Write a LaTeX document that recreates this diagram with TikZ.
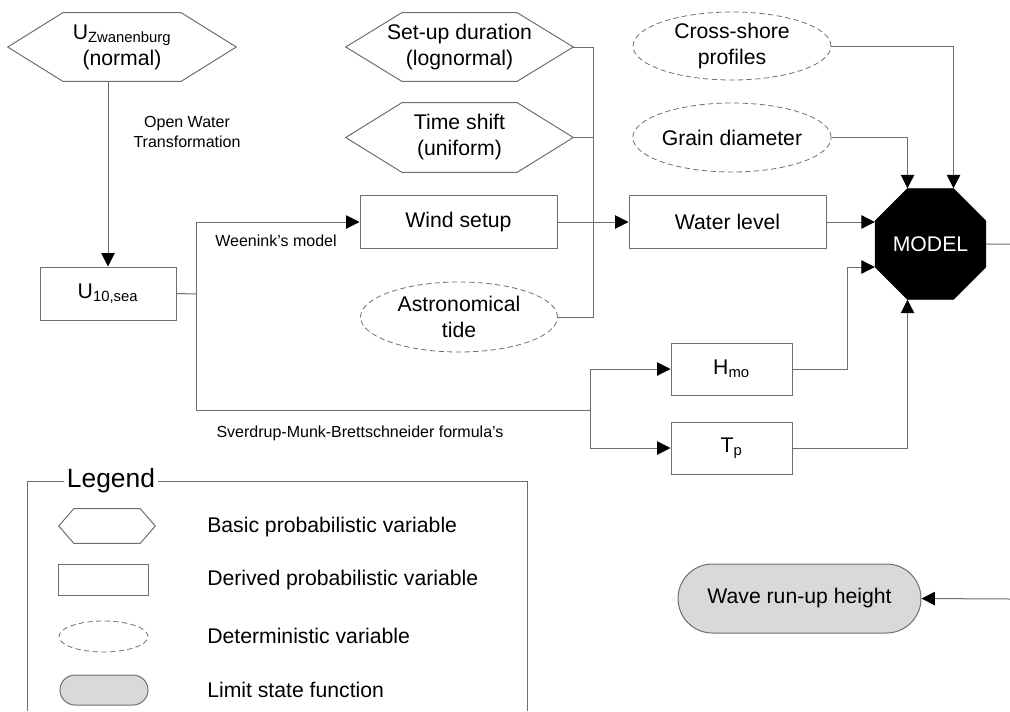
\documentclass[tikz,border=0pt]{standalone}
\usepackage{fontspec}
\setmainfont{Liberation Sans}
\usetikzlibrary{arrows.meta,shapes.geometric,shapes.misc,calc}
\definecolor{lgray}{RGB}{110,110,110}
\definecolor{fillgray}{RGB}{217,217,217}
\newcommand\pxu{0.75pt}
\newcommand\hexpath[2]{\draw[shapeline] (#1.west) -- ($(#1.north west)+(#2,0)$) -- ($(#1.north east)+(-#2,0)$) -- (#1.east) -- ($(#1.south east)+(-#2,0)$) -- ($(#1.south west)+(#2,0)$) -- cycle;}
\tikzset{
  shapeline/.style={draw=lgray, line width=0.75pt},
  mainfont/.style={font=\fontsize{15.9}{19.5}\selectfont},
  smallfont/.style={font=\fontsize{12}{14.5}\selectfont},
  hexbox/.style={mainfont, align=center, inner sep=0pt},
  derbox/.style={shapeline, rectangle, mainfont, align=center, inner sep=0pt},
  detell/.style={ellipse, draw=lgray, line width=0.6pt, dash pattern=on 4pt off 2.5pt, mainfont, align=center, inner sep=0pt},
  limitbox/.style={rounded rectangle, draw=lgray, line width=0.75pt, fill=fillgray, mainfont, inner sep=0pt},
  conn/.style={draw=lgray, line width=0.75pt},
  arr/.style={conn, -{Triangle[length=10pt,width=10pt,color=black]}},
  lbl/.style={smallfont, align=center, inner sep=0pt},
  legtext/.style={mainfont, anchor=west, inner sep=0pt}
}
\begin{document}
\begin{tikzpicture}[x=0.75pt, y=-0.75pt]
\useasboundingbox (0,0) rectangle (1010,711);

% top-left chain
\node[hexbox, minimum width=228*\pxu, minimum height=68*\pxu] (uz) at (122,47) {U\textsubscript{Zwanenburg}\\(normal)};
\hexpath{uz}{55}
\node[derbox, minimum width=136*\pxu, minimum height=53*\pxu] (u10) at (108,293.5) {U\textsubscript{10,sea}};
\draw[arr] (uz.south -| u10.north) -- (u10.north);
\node[lbl] (owt) at (187,132) {Open Water\\Transformation};

% middle column
\node[hexbox, minimum width=227*\pxu, minimum height=68*\pxu] (setup) at (459.5,47) {Set-up duration\\(lognormal)};
\hexpath{setup}{56}
\node[hexbox, minimum width=227*\pxu, minimum height=69*\pxu] (tshift) at (459.5,137.5) {Time shift\\(uniform)};
\hexpath{tshift}{56}
\node[derbox, minimum width=197*\pxu, minimum height=53*\pxu] (wind) at (458.5,222) {Wind setup};
\node[detell, minimum width=197*\pxu, minimum height=70*\pxu] (tide) at (459,317) {Astronomical\\tide};

% right column
\node[derbox, minimum width=197*\pxu, minimum height=53*\pxu] (water) at (727.5,222) {Water level};
\node[detell, minimum width=198*\pxu, minimum height=68*\pxu] (cross) at (732,46) {Cross-shore\\profiles};
\node[detell, minimum width=198*\pxu, minimum height=69*\pxu] (grain) at (732,137.5) {Grain diameter};
\node[regular polygon, regular polygon sides=8, fill=black, draw=black, minimum size=120*\pxu, inner sep=0pt, mainfont, text=white] (model) at (930.5,244) {MODEL};
\node[derbox, minimum width=121*\pxu, minimum height=52*\pxu] (hmo) at (731.5,369) {H\textsubscript{mo}};
\node[derbox, minimum width=121*\pxu, minimum height=52*\pxu] (tp) at (731.5,448) {T\textsubscript{p}};
\node[limitbox, minimum width=243*\pxu, minimum height=69*\pxu] (wave) at (799.5,598.5) {Wave run-up height};

% connectors
\coordinate (j1) at (196,294);
\coordinate (j2) at (590,410);
\draw[conn] (u10.east) -- (j1);
\draw[arr] (j1) |- (wind.west);
\node[lbl] (wlab) at (276,241) {Weenink's model};
\draw[conn] (j1) |- (j2);
\draw[arr] (j2) |- (hmo.west);
\draw[arr] (j2) |- (tp.west);
\node[lbl] (smb) at (360,433) {Sverdrup-Munk-Brettschneider formula's};

\coordinate (bt) at (593,47);
\coordinate (bb) at (593,317);
\draw[conn] (setup.east) -- (bt) -- (bb) -- (tide.east);
\draw[conn] (tshift.east) -- (tshift.east -| bt);
\draw[arr] (wind.east) -- (water.west);
\draw[arr] (water.east) -- (water.east -| model.west);
\draw[arr] (cross.east) -| ($(model.north)+(23,0)$);
\draw[arr] (grain.east) -| ($(model.north)+(-23,0)$);
\coordinate (hk) at (847,267);
\draw[arr] (hmo.east) -| (hk) -- (hk -| model.west);
\draw[arr] (tp.east) -| ($(model.south)+(-23,0)$);
\coordinate (e1) at (1010,244);
\draw[conn] (model.east) -- (e1);
\coordinate (e2) at (1010,599);
\draw[arr] (e2) -- (wave.east);

% legend
\node[font=\fontsize{19.8}{22}\selectfont, inner sep=2pt] (leg) at (111,481) {Legend};
\coordinate (lfl) at (27,711);
\coordinate (lfr) at (527,711);
\draw[conn] (lfl) |- (leg.west);
\draw[conn] (leg.east) -| (lfr);
\node[minimum width=96*\pxu, minimum height=34*\pxu, inner sep=0pt] (lh) at (107,526) {};
\hexpath{lh}{15}
\node[derbox, minimum width=90*\pxu, minimum height=31*\pxu] (lr) at (103,580) {};
\node[detell, minimum width=89*\pxu, minimum height=31*\pxu] (le) at (103.5,636.5) {};
\node[limitbox, minimum width=88*\pxu, minimum height=30*\pxu] (lrr) at (104,690) {};
\node[legtext] (t1) at (207,527) {Basic probabilistic variable};
\node[legtext] (t2) at (207,580) {Derived probabilistic variable};
\node[legtext] (t3) at (207,636) {Deterministic variable};
\node[legtext] (t4) at (207,690) {Limit state function};
\end{tikzpicture}
\end{document}
